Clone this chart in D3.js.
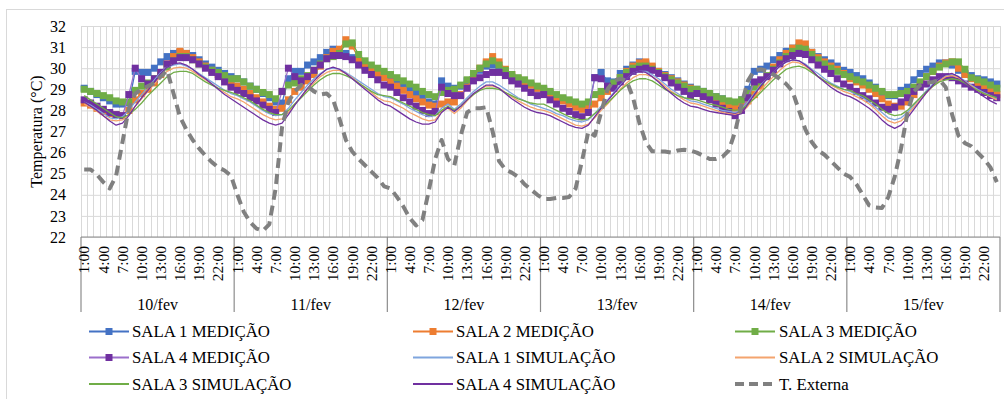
<!DOCTYPE html>
<html><head><meta charset="utf-8">
<script src="https://cdn.jsdelivr.net/npm/d3@7"></script>
<style>
body{margin:0;background:#fff}
svg{display:block}
text{font-family:"Liberation Serif","Times New Roman",serif;fill:#000}
</style>
</head><body>
<svg id="c" width="1004" height="399"></svg>
<script>
const days = ["10/fev","11/fev","12/fev","13/fev","14/fev","15/fev"];
const hours = ["1:00","2:00","3:00","4:00","5:00","6:00","7:00","8:00","9:00","10:00","11:00","12:00",
               "13:00","14:00","15:00","16:00","17:00","18:00","19:00","20:00","21:00","22:00","23:00","24:00"];
const yTicks = [22,23,24,25,26,27,28,29,30,31,32];

const sala1Medicao = [
 29.05,28.9,28.75,28.6,28.45,28.3,28.3,28.35,29.85,29.8,29.8,30.0,30.3,30.55,30.7,30.75,30.7,30.6,30.4,30.2,30.05,29.9,29.75,29.6,
 29.5,29.35,29.15,29.0,28.8,28.6,28.4,28.35,29.5,29.85,29.85,30.15,30.3,30.5,30.75,30.9,30.75,30.7,30.5,30.3,30.1,29.95,29.8,29.6,
 29.5,29.35,29.2,29.0,28.8,28.6,28.4,28.3,29.4,29.15,29.05,29.15,29.4,29.65,29.9,30.1,30.15,30.0,29.8,29.6,29.45,29.35,29.2,29.05,
 29.0,28.85,28.7,28.55,28.4,28.25,28.15,28.1,29.55,29.8,29.4,29.35,29.75,29.95,30.15,30.3,30.2,30.05,29.85,29.7,29.55,29.4,29.25,29.1,
 29.0,28.9,28.8,28.65,28.55,28.4,28.3,28.5,29.0,29.85,29.95,30.1,30.4,30.6,30.8,30.95,31.0,30.9,30.75,30.55,30.4,30.25,30.1,29.9,
 29.8,29.65,29.5,29.3,29.1,28.85,28.7,28.7,28.95,29.1,29.45,29.75,29.95,30.1,30.25,30.25,30.15,29.9,29.75,29.65,29.5,29.45,29.35,29.25];
const sala2Medicao = [
 28.35,28.25,28.1,27.95,27.85,27.8,27.75,28.0,28.5,28.8,29.0,29.3,29.7,30.2,30.55,30.8,30.7,30.5,30.3,30.1,29.9,29.7,29.5,29.3,
 29.15,29.0,28.8,28.6,28.4,28.2,28.05,28.1,28.5,28.9,29.1,29.4,29.7,30.1,30.5,30.8,30.9,31.35,31.05,30.45,30.15,29.95,29.75,29.55,
 29.35,29.15,28.95,28.75,28.55,28.4,28.25,28.2,28.3,28.4,28.4,28.75,29.1,29.6,30.0,30.3,30.55,30.3,29.95,29.7,29.5,29.35,29.2,29.05,
 28.95,28.8,28.6,28.45,28.3,28.15,28.05,28.1,28.3,28.6,28.9,29.2,29.55,29.85,30.1,30.25,30.3,30.1,29.85,29.65,29.5,29.35,29.2,29.05,
 28.85,28.7,28.55,28.45,28.3,28.2,28.1,28.2,28.45,28.75,29.15,29.6,30.05,30.4,30.7,30.95,31.2,31.15,30.75,30.5,30.3,30.1,29.95,29.75,
 29.5,29.35,29.2,29.0,28.8,28.55,28.3,28.2,28.2,28.4,28.75,29.2,29.6,29.85,30.1,30.25,30.3,30.0,29.7,29.5,29.3,29.1,28.9,28.75];
const sala3Medicao = [
 29.0,28.9,28.8,28.7,28.6,28.45,28.4,28.4,28.95,29.15,29.3,29.5,29.75,30.05,30.35,30.55,30.55,30.4,30.2,30.05,29.9,29.8,29.65,29.5,
 29.5,29.35,29.15,29.0,28.85,28.75,28.55,28.9,29.2,29.3,29.5,29.65,29.9,30.2,30.45,30.55,30.7,31.15,31.2,30.65,30.35,30.15,30.0,29.85,
 29.7,29.55,29.4,29.25,29.1,28.9,28.75,28.65,28.85,28.95,29.0,29.2,29.45,29.75,30.0,30.2,30.35,30.15,29.9,29.7,29.55,29.45,29.3,29.15,
 29.05,28.9,28.75,28.6,28.5,28.4,28.3,28.4,28.75,28.9,29.1,29.3,29.55,29.8,30.0,30.1,30.1,29.95,29.8,29.6,29.45,29.3,29.15,29.0,
 29.0,28.9,28.8,28.65,28.55,28.45,28.4,28.5,28.8,29.1,29.35,29.65,29.95,30.25,30.55,30.8,30.95,30.9,30.65,30.4,30.2,30.0,29.85,29.7,
 29.6,29.45,29.35,29.2,29.05,28.9,28.75,28.75,28.8,28.9,29.1,29.35,29.6,29.85,30.05,30.2,30.3,30.3,29.95,29.55,29.45,29.35,29.2,29.05];
const sala4Medicao = [
 28.5,28.35,28.2,28.05,27.9,27.8,27.75,28.75,30.0,29.5,29.25,29.5,29.8,30.2,30.35,30.5,30.5,30.4,30.2,30.0,29.8,29.6,29.35,29.1,
 28.95,28.8,28.6,28.45,28.25,28.05,27.9,28.9,30.0,29.6,29.4,29.6,29.9,30.15,30.45,30.6,30.6,30.55,30.4,30.15,29.9,29.7,29.45,29.2,
 29.1,28.85,28.6,28.4,28.2,28.0,27.85,27.95,29.1,28.8,28.7,28.7,29.05,29.4,29.55,29.7,29.8,29.8,29.65,29.4,29.25,29.05,28.85,28.7,
 28.75,28.5,28.3,28.1,27.95,27.8,27.7,27.9,29.55,29.5,29.15,29.05,29.35,29.6,29.85,29.95,30.0,29.9,29.75,29.55,29.3,29.1,28.9,28.7,
 28.8,28.65,28.5,28.3,28.1,27.95,27.75,28.0,28.6,29.35,29.45,29.6,29.9,30.2,30.45,30.6,30.7,30.65,30.4,30.15,29.95,29.75,29.5,29.25,
 29.1,28.9,28.7,28.55,28.35,28.15,28.05,28.15,28.4,28.6,28.9,29.1,29.25,29.45,29.6,29.6,29.55,29.4,29.25,29.1,29.0,28.85,28.7,28.6];
const sala1Simulacao = [
 28.4,28.25,28.05,27.85,27.65,27.6,27.7,28.0,28.4,28.75,29.1,29.45,29.8,30.05,30.15,30.2,30.1,29.95,29.75,29.55,29.35,29.15,28.95,28.8,
 28.7,28.55,28.4,28.2,28.0,27.85,27.75,27.8,28.1,28.5,28.85,29.2,29.5,29.75,29.95,30.0,29.95,29.8,29.6,29.4,29.2,29.0,28.8,28.65,
 28.6,28.45,28.3,28.1,27.95,27.8,27.7,27.75,28.1,28.3,28.05,28.3,28.6,28.9,29.15,29.35,29.35,29.2,29.0,28.8,28.6,28.45,28.3,28.2,
 28.1,28.0,27.85,27.75,27.6,27.5,27.45,27.55,27.85,28.2,28.5,28.85,29.2,29.5,29.75,29.85,29.85,29.7,29.5,29.25,29.0,28.8,28.6,28.45,
 28.4,28.3,28.2,28.1,28.0,27.95,27.9,28.05,28.4,28.8,29.2,29.5,29.8,30.1,30.3,30.4,30.35,30.2,29.95,29.75,29.5,29.3,29.15,29.0,
 28.9,28.75,28.6,28.4,28.15,27.9,27.65,27.55,27.65,27.9,28.25,28.6,28.95,29.25,29.5,29.65,29.7,29.6,29.4,29.2,29.0,28.85,28.7,28.55];
const sala2Simulacao = [
 28.3,28.15,27.95,27.75,27.55,27.5,27.55,27.8,28.2,28.55,28.9,29.25,29.6,29.85,30.0,30.05,30.0,29.85,29.65,29.45,29.25,29.05,28.85,28.65,
 28.55,28.4,28.2,28.0,27.8,27.65,27.55,27.6,27.9,28.3,28.65,29.0,29.3,29.6,29.8,29.9,29.9,29.75,29.55,29.3,29.1,28.85,28.6,28.45,
 28.4,28.25,28.1,27.9,27.75,27.6,27.5,27.55,27.95,28.1,27.85,28.1,28.45,28.75,29.0,29.15,29.15,29.05,28.85,28.65,28.45,28.3,28.15,28.05,
 28.0,27.9,27.75,27.6,27.45,27.3,27.25,27.35,27.65,28.0,28.3,28.65,29.0,29.3,29.55,29.7,29.7,29.6,29.4,29.15,28.9,28.7,28.5,28.35,
 28.3,28.2,28.1,28.0,27.9,27.85,27.8,27.9,28.2,28.6,28.95,29.3,29.6,29.9,30.15,30.3,30.25,30.1,29.85,29.6,29.4,29.2,29.05,28.9,
 28.8,28.65,28.5,28.3,28.05,27.75,27.5,27.4,27.5,27.8,28.15,28.5,28.85,29.15,29.4,29.6,29.65,29.55,29.35,29.15,28.95,28.8,28.65,28.5];
const sala3Simulacao = [
 28.7,28.5,28.3,28.1,27.9,27.7,27.65,27.8,28.05,28.35,28.7,29.0,29.3,29.6,29.8,29.85,29.85,29.75,29.55,29.35,29.2,29.05,28.95,28.85,
 28.75,28.6,28.45,28.25,28.05,27.9,27.8,27.8,28.0,28.3,28.6,28.9,29.2,29.45,29.65,29.75,29.75,29.65,29.5,29.3,29.1,28.9,28.75,28.7,
 28.65,28.5,28.35,28.2,28.05,27.9,27.8,27.75,28.0,28.2,28.0,28.2,28.5,28.75,28.95,29.05,29.05,29.0,28.85,28.7,28.55,28.45,28.35,28.3,
 28.3,28.15,28.0,27.85,27.7,27.6,27.55,27.6,27.85,28.1,28.35,28.65,28.95,29.2,29.4,29.5,29.5,29.4,29.2,29.0,28.85,28.7,28.6,28.55,
 28.5,28.4,28.3,28.25,28.15,28.05,28.0,28.05,28.3,28.55,28.85,29.15,29.45,29.7,29.95,30.05,30.1,30.0,29.8,29.6,29.4,29.25,29.1,29.0,
 28.95,28.8,28.7,28.5,28.3,28.05,27.85,27.75,27.8,28.0,28.3,28.6,28.9,29.15,29.35,29.45,29.5,29.45,29.3,29.1,28.95,28.8,28.7,28.6];
const sala4Simulacao = [
 28.4,28.2,28.0,27.75,27.5,27.3,27.4,27.75,28.2,28.6,28.95,29.35,29.75,30.05,30.2,30.25,30.15,29.95,29.7,29.5,29.25,29.0,28.75,28.55,
 28.35,28.15,27.95,27.75,27.55,27.4,27.3,27.4,27.8,28.25,28.65,29.05,29.4,29.7,29.95,30.05,29.95,29.75,29.5,29.25,29.0,28.75,28.5,28.3,
 28.2,28.0,27.8,27.6,27.45,27.35,27.35,27.45,27.9,28.15,27.95,28.2,28.5,28.8,29.0,29.2,29.2,29.05,28.8,28.55,28.35,28.15,28.0,27.9,
 27.85,27.75,27.6,27.45,27.3,27.2,27.15,27.3,27.7,28.1,28.45,28.8,29.15,29.5,29.75,29.85,29.8,29.6,29.35,29.05,28.8,28.55,28.35,28.2,
 28.15,28.05,27.95,27.9,27.85,27.8,27.75,27.85,28.3,28.75,29.15,29.5,29.8,30.1,30.3,30.4,30.35,30.15,29.9,29.6,29.35,29.1,28.9,28.75,
 28.65,28.5,28.3,28.1,27.85,27.55,27.3,27.15,27.3,27.65,28.05,28.45,28.85,29.2,29.5,29.7,29.75,29.6,29.35,29.1,28.85,28.65,28.45,28.3];
const tExterna = [
 25.2,25.2,24.95,24.6,24.3,24.9,26.5,28.1,28.8,29.0,29.15,29.3,29.6,29.9,28.8,27.7,27.1,26.6,26.2,25.85,25.55,25.3,25.15,24.9,
 24.0,23.2,22.7,22.4,22.3,22.6,24.3,27.2,28.4,28.9,29.2,29.15,28.9,28.75,28.8,28.5,27.6,26.6,26.05,25.7,25.4,25.1,24.8,24.4,
 24.3,23.9,23.45,22.9,22.55,22.8,24.2,25.7,26.6,25.7,25.4,26.8,27.9,28.1,28.1,28.15,27.0,25.6,25.2,25.05,24.85,24.5,24.25,24.0,
 23.8,23.8,23.85,23.85,23.9,24.3,25.6,27.0,26.8,27.9,29.0,29.4,29.5,29.4,28.6,27.4,26.5,26.06,26.06,26.05,26.0,26.1,26.14,26.1,
 26.0,25.85,25.7,25.7,25.8,26.1,27.0,28.3,29.4,29.9,29.95,29.87,29.7,29.5,29.25,28.9,28.0,27.1,26.5,26.1,25.9,25.6,25.3,25.0,
 24.85,24.5,24.0,23.5,23.4,23.37,23.9,24.85,26.2,27.9,28.9,29.2,29.3,29.35,29.45,29.1,27.8,26.8,26.45,26.3,26.0,25.7,25.3,24.6];

const seriesNames = ["SALA 1 MEDIÇÃO","SALA 2 MEDIÇÃO","SALA 3 MEDIÇÃO","SALA 4 MEDIÇÃO",
  "SALA 1 SIMULAÇÃO","SALA 2 SIMULAÇÃO","SALA 3 SIMULAÇÃO","SALA 4 SIMULAÇÃO","T. Externa"];

const series = [
  {name:seriesNames[0], values:sala1Medicao, line:"#4472C4", marker:"#4472C4", w:1.25},
  {name:seriesNames[1], values:sala2Medicao, line:"#ED7D31", marker:"#ED7D31", w:1.25},
  {name:seriesNames[2], values:sala3Medicao, line:"#70AD47", marker:"#70AD47", w:1.25},
  {name:seriesNames[3], values:sala4Medicao, line:"#9B6FCB", marker:"#7030A0", w:1.25},
  {name:seriesNames[4], values:sala1Simulacao, line:"#7FA5DE", w:1.3},
  {name:seriesNames[5], values:sala2Simulacao, line:"#F4A46E", w:1.3},
  {name:seriesNames[6], values:sala3Simulacao, line:"#70AD47", w:1.3},
  {name:seriesNames[7], values:sala4Simulacao, line:"#7030A0", w:1.3},
  {name:seriesNames[8], values:tExterna, line:"#808080", w:4, dash:"10,6"}
];

const N = days.length * hours.length;
const svg = d3.select("#c");
const L = 81, R = 1000, T = 26, B = 237;

svg.append("rect").attr("x",6.5).attr("y",9.5).attr("width",1200).attr("height",600)
  .attr("fill","#fff").attr("stroke","#d9d9d9").attr("stroke-width",1);

const x = d3.scaleBand().domain(d3.range(N)).range([L,R]).paddingInner(0).paddingOuter(0);
const y = d3.scaleLinear().domain([22,32]).range([B,T]);
const cx = i => x(i) + x.bandwidth()/2;

// horizontal gridlines + y labels via axis
const gy = svg.append("g").attr("transform",`translate(${L},0)`)
  .call(d3.axisLeft(y).tickValues(yTicks).tickSize(-(R-L)).tickPadding(15).tickFormat(d3.format("d")));
gy.select(".domain").remove();
gy.selectAll(".tick line").attr("stroke","#d9d9d9").attr("stroke-width",1);
gy.selectAll(".tick text").attr("font-size","16px").attr("font-family",'"Liberation Serif","Times New Roman",serif').attr("fill","#000");

// vertical gridlines at category boundaries
const bounds = d3.range(N+1);
svg.append("g").selectAll("line").data(bounds).join("line")
  .attr("x1",d=> d<N ? x(d) : R).attr("x2",d=> d<N ? x(d) : R)
  .attr("y1",T).attr("y2",B)
  .attr("stroke","#d9d9d9").attr("stroke-width",1).attr("shape-rendering","crispEdges");

// x axis line
svg.append("line").attr("x1",L).attr("x2",R).attr("y1",B).attr("y2",B)
  .attr("stroke","#8c8c8c").attr("stroke-width",1.2);
// day separators
svg.append("g").selectAll("line").data(d3.range(days.length+1)).join("line")
  .attr("x1",d=> d<days.length ? x(d*24) : R).attr("x2",d=> d<days.length ? x(d*24) : R)
  .attr("y1",B).attr("y2",312)
  .attr("stroke","#8c8c8c").attr("stroke-width",1.2);

// hour tick labels
const tickIdx = d3.range(N).filter(i => i % 3 === 0);
svg.append("g").selectAll("text").data(tickIdx).join("text")
  .attr("transform", i => `translate(${cx(i)},246) rotate(-90)`)
  .attr("text-anchor","end").attr("dy","0.34em")
  .attr("font-size","15.5px")
  .text(i => hours[i % 24]);

// day labels
svg.append("g").selectAll("text").data(days).join("text")
  .attr("x",(d,k)=> x(k*24) + 12*x.bandwidth()).attr("y",309.5)
  .attr("text-anchor","middle").attr("font-size","16px").text(d=>d);

// y title
svg.append("text").attr("transform",`translate(42,${(T+B)/2}) rotate(-90)`)
  .attr("text-anchor","middle").attr("font-size","16px").text("Temperatura (°C)");

// series
const line = d3.line().x((d,i)=>cx(i)).y(d=>y(d));
const plot = svg.append("g");
series.forEach(s => {
  plot.append("path").attr("d", line(s.values)).attr("fill","none")
    .attr("stroke", s.line).attr("stroke-width", s.w)
    .attr("stroke-dasharray", s.dash || null).attr("stroke-linejoin","round");
  if (s.marker) {
    plot.append("g").selectAll("rect").data(s.values).join("rect")
      .attr("x",(d,i)=>cx(i)-3.5).attr("y",d=>y(d)-3.5)
      .attr("width",7).attr("height",7).attr("fill",s.marker);
  }
});

// legend
const colX = [89, 413, 735], textX = [132, 456, 779], rowY = [331.5, 357.5, 384];
const lg = svg.append("g");
series.forEach((s,k) => {
  const c = k % 3, r = Math.floor(k / 3);
  const g = lg.append("g");
  g.append("line").attr("x1",colX[c]).attr("x2",colX[c]+40).attr("y1",rowY[r]).attr("y2",rowY[r])
    .attr("stroke",s.line).attr("stroke-width", s.dash ? 4 : 2).attr("stroke-dasharray", s.dash ? "9,5" : null);
  if (s.marker) g.append("rect").attr("x",colX[c]+16.5).attr("y",rowY[r]-3.5).attr("width",7).attr("height",7).attr("fill",s.marker);
  g.append("text").attr("x",textX[c]).attr("y",rowY[r]).attr("dy","0.33em")
    .attr("font-size","16.8px").text(s.name);
});
</script>
</body></html>
